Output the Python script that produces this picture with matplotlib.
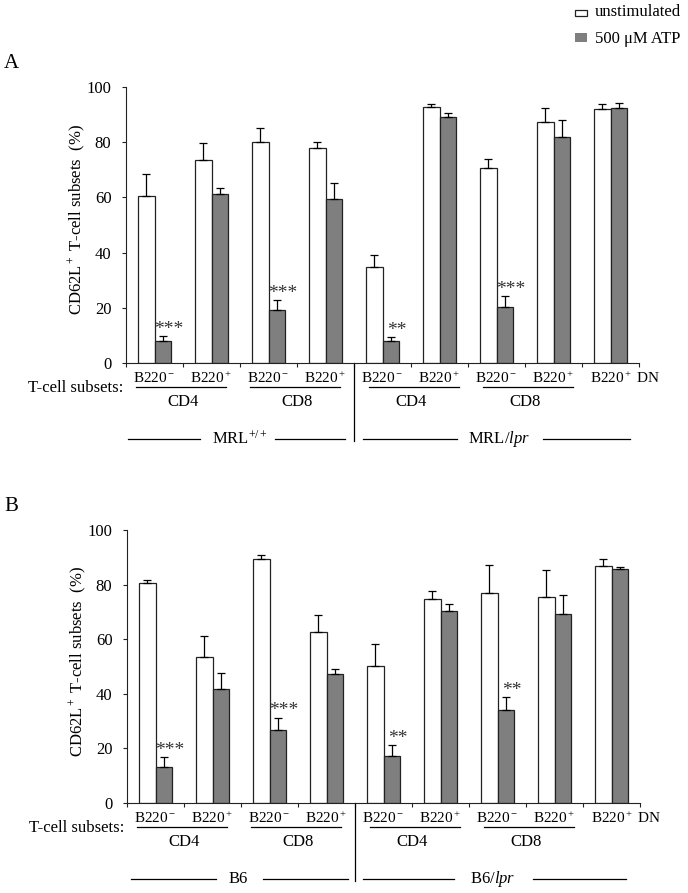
import matplotlib

matplotlib.use("Agg")
import matplotlib.pyplot as plt
import numpy as np
from matplotlib.patches import Rectangle

plt.rcParams.update({
    "font.family": ["Liberation Serif", "DejaVu Serif"],
    "mathtext.fontset": "custom",
    "mathtext.rm": "Liberation Serif",
    "mathtext.it": "Liberation Serif:italic",
    "mathtext.bf": "Liberation Serif:bold",
})

# ---- data ----
subset_labels = ["B220$^-$", "B220$^+$", "B220$^-$", "B220$^+$",
                 "B220$^-$", "B220$^+$", "B220$^-$", "B220$^+$", "B220$^+$ DN"]
cell_types = ["CD4", "CD8", "CD4", "CD8"]
series_names = ["unstimulated", "500 \u03bcM ATP"]

strains_a = ["MRL$^{+/+}$", "MRL/$lpr$"]
a_unstim = [60.4, 73.6, 79.9, 78.0, 34.9, 92.7, 70.8, 87.4, 92.1]
a_unstim_err = [7.9, 6.1, 5.2, 2.0, 4.4, 1.1, 3.1, 4.9, 1.7]
a_atp = [7.9, 61.3, 19.3, 59.6, 7.9, 89.0, 20.3, 81.8, 92.3]
a_atp_err = [2.0, 2.2, 3.5, 5.5, 1.5, 1.7, 3.8, 6.4, 2.0]
a_sig = ["***", "", "***", "", "**", "", "***", "", ""]

strains_b = ["B6", "B6/$lpr$"]
b_unstim = [80.5, 53.5, 89.2, 62.5, 50.1, 74.7, 76.8, 75.5, 86.7]
b_unstim_err = [1.1, 7.7, 1.8, 6.3, 8.2, 2.8, 10.2, 9.9, 2.8]
b_atp = [13.1, 41.6, 26.9, 47.4, 17.1, 70.2, 34.0, 69.1, 85.8]
b_atp_err = [3.9, 6.1, 4.4, 1.7, 4.0, 2.6, 4.9, 7.2, 0.7]
b_sig = ["***", "", "***", "", "**", "", "**", "", ""]

W, H = 688, 893
GRAY = "#7f7f7f"
EDGE = "#222222"

fig = plt.figure(figsize=(W / 100, H / 100), dpi=100)


def draw_panel(rect, letter, letter_y, unstim, unstim_err, atp, atp_err, sig,
               strains, strain_segments, strain_text_x):
    left, top, right, bottom = rect
    ax = fig.add_axes([left / W, 1 - bottom / H, (right - left) / W, (bottom - top) / H])
    ah = bottom - top

    def below(px):
        return -px / ah

    x = np.arange(len(unstim)) + 0.5
    w = 0.29
    zeros = np.zeros(len(unstim))
    ekw = dict(ecolor="black", elinewidth=0.9, capsize=2.6, capthick=0.9)
    ax.bar(x - w / 2, unstim, w, color="white", edgecolor=EDGE, linewidth=0.9,
           yerr=[zeros, unstim_err], error_kw=ekw)
    ax.bar(x + w / 2, atp, w, color=GRAY, edgecolor=EDGE, linewidth=0.9,
           yerr=[zeros, atp_err], error_kw=ekw)
    for i, s in enumerate(sig):
        if s:
            ax.annotate(s, (x[i] + w / 2, atp[i] + atp_err[i]), xytext=(4, 1.5),
                        textcoords="offset points", ha="center", va="baseline",
                        fontsize=14, color="#333333")

    ax.set_xlim(0, 9)
    ax.set_ylim(0, 100)
    ax.set_xticks(range(10))
    ax.set_xticklabels([])
    ax.set_yticks(range(0, 101, 20))
    ax.tick_params(axis="x", direction="out", length=3, width=0.8, color=EDGE)
    ax.tick_params(axis="y", direction="out", length=3, width=0.8, color=EDGE,
                   labelsize=12, pad=7.5)
    for side in ("top", "right"):
        ax.spines[side].set_visible(False)
    for side in ("left", "bottom"):
        ax.spines[side].set_linewidth(0.8)
        ax.spines[side].set_color(EDGE)

    ax.set_ylabel("CD62L$^+$ T-cell subsets  (%)", fontsize=12)
    ax.yaxis.set_label_coords(-0.074, 0.52)

    xt = ax.get_xaxis_transform()
    for i, lab in enumerate(subset_labels):
        if i == len(subset_labels) - 1:
            ax.text(x[i] - 0.36, below(15), lab, ha="left", va="center", fontsize=11, transform=xt)
        else:
            ax.text(x[i], below(15), lab, ha="center", va="center", fontsize=11, transform=xt)
    ax.text(-0.05, below(25), "T-cell subsets:", ha="right", va="center", fontsize=12, transform=xt)
    for k, ct in enumerate(cell_types):
        g = 2 * k + (0.08 if k >= 2 else 0)
        ax.plot([g + 0.18, g + 1.76], [below(24)] * 2, color="black", lw=0.9,
                transform=xt, clip_on=False)
        ax.text(2 * k + 1, below(39), ct, ha="center", va="center", fontsize=12, transform=xt)

    ax.plot([4, 4], [0, below(78)], color="black", lw=0.9, transform=xt, clip_on=False)
    for (x0, x1) in strain_segments:
        ax.plot([x0, x1], [below(76)] * 2, color="black", lw=0.9, transform=xt, clip_on=False)
    for name, tx in zip(strains, strain_text_x):
        ax.text(tx, below(76), name, ha="center", va="center", fontsize=12, transform=xt)

    fig.text(4 / W, 1 - letter_y / H, letter, fontsize=15, ha="left", va="center")
    return ax


draw_panel((126, 87, 639, 363), "A", 63, a_unstim, a_unstim_err, a_atp, a_atp_err, a_sig,
           strains_a, [(0.04, 1.30), (2.61, 3.84), (4.16, 5.81), (7.32, 8.84)], [2.0, 6.54])
draw_panel((127, 530, 640, 803), "B", 506, b_unstim, b_unstim_err, b_atp, b_atp_err, b_sig,
           strains_b, [(0.07, 1.56), (2.39, 3.88), (4.14, 5.74), (7.12, 8.75)], [1.95, 6.42])

# legend
fig.add_artist(Rectangle((575 / W, 1 - 15.5 / H), 12 / W, 6 / H, transform=fig.transFigure,
                         facecolor="white", edgecolor=EDGE, linewidth=0.9))
fig.add_artist(Rectangle((575 / W, 1 - 42 / H), 12 / W, 9 / H, transform=fig.transFigure,
                         facecolor=GRAY, edgecolor="none"))
fig.text(595 / W, 1 - 16.5 / H, series_names[0], fontsize=12, ha="left", va="baseline")
fig.text(595 / W, 1 - 43 / H, series_names[1], fontsize=12, ha="left", va="baseline")

fig.savefig("out.png", dpi=100)
